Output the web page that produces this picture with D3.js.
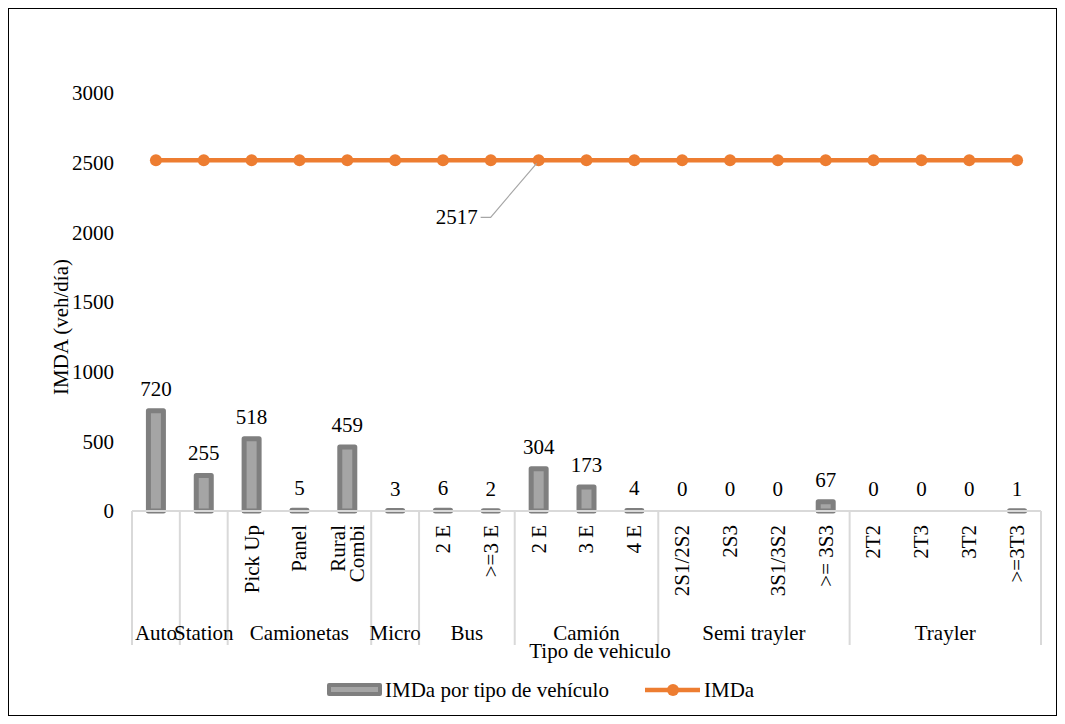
<!DOCTYPE html>
<html><head><meta charset="utf-8">
<script src="https://cdn.jsdelivr.net/npm/d3@7/dist/d3.min.js"></script>
</head>
<body style="margin:0;background:#fff"><svg id="c" width="1065" height="724"></svg>
<script>
// ---- data ----
const subLabels = ["", "", "Pick Up", "Panel", "Rural\nCombi", "", "2 E", ">=3 E", "2 E", "3 E", "4 E",
  "2S1/2S2", "2S3", "3S1/3S2", ">= 3S3", "2T2", "2T3", "3T2", ">=3T3"];
const groupNames = ["Auto", "Station", "Camionetas", "Micro", "Bus", "Camión", "Semi trayler", "Trayler"];
const groupSizes = [1, 1, 3, 1, 2, 3, 4, 4];
const barValues = [720, 255, 518, 5, 459, 3, 6, 2, 304, 173, 4, 0, 0, 0, 67, 0, 0, 0, 1];
const imdaValues = [2517, 2517, 2517, 2517, 2517, 2517, 2517, 2517, 2517, 2517, 2517, 2517, 2517, 2517, 2517, 2517, 2517, 2517, 2517];
const yTicks = [0, 500, 1000, 1500, 2000, 2500, 3000];
const seriesNames = ["IMDa por tipo de vehículo", "IMDa"];
const xTitle = "Tipo de vehiculo";
const yTitle = "IMDA (veh/día)";

// ---- layout ----
const svg = d3.select("#c");
const L = 132, R = 1041, T = 93, B = 511;
const FS = 21;
const FONT = "Liberation Serif";
const orange = "#ED7D31", barFill = "#A5A5A5", barStroke = "#7F7F7F", axisCol = "#D9D9D9";

svg.append("rect").attr("x", 8.5).attr("y", 8.5).attr("width", 1048).attr("height", 707)
  .attr("fill", "none").attr("stroke", "#000").attr("stroke-width", 1);

const x = d3.scaleBand().domain(d3.range(barValues.length)).range([L, R]);
const y = d3.scaleLinear().domain([0, 3000]).range([B, T]);
const cx = i => x(i) + x.bandwidth() / 2;

// y axis labels
const yAxis = d3.axisLeft(y).tickValues(yTicks).tickFormat(d3.format("d")).tickSize(0).tickPadding(0);
const gy = svg.append("g").attr("transform", "translate(114,0)").call(yAxis);
gy.select(".domain").remove();
gy.selectAll("text").attr("font-size", FS).attr("fill", "#000");

// y title
svg.append("text").attr("transform", `translate(68,327) rotate(-90)`).attr("text-anchor", "middle")
  .attr("font-size", FS).text(yTitle);

// bars
const bw = 15;
svg.append("g").selectAll("rect").data(barValues.map((v, i) => ({v, i})).filter(d => d.v > 0)).join("rect")
  .attr("x", d => cx(d.i) - bw / 2).attr("y", d => y(d.v)).attr("width", bw)
  .attr("height", d => B - y(d.v))
  .attr("fill", barFill).attr("stroke", barStroke).attr("stroke-width", 5).attr("stroke-linejoin", "round");

// x axis baseline
svg.append("line").attr("x1", L).attr("x2", R).attr("y1", B).attr("y2", B)
  .attr("stroke", axisCol).attr("stroke-width", 2);

// group separators & labels
let start = 0;
const bounds = [0];
groupSizes.forEach(n => { start += n; bounds.push(start); });
const bx = b => b < barValues.length ? x(b) : R;
svg.append("g").selectAll("line").data(bounds).join("line")
  .attr("x1", bx).attr("x2", bx)
  .attr("y1", B).attr("y2", 645).attr("stroke", axisCol).attr("stroke-width", 2);

svg.append("g").selectAll("text").data(groupNames).join("text")
  .attr("x", (g, k) => (bx(bounds[k]) + bx(bounds[k + 1])) / 2)
  .attr("y", 640).attr("text-anchor", "middle").attr("font-size", FS).text(g => g);

// sub labels
const sub = svg.append("g").selectAll("text").data(subLabels.map((s, i) => ({s, i})).filter(d => d.s)).join("text")
  .attr("transform", d => `translate(${cx(d.i)},525) rotate(-90)`)
  .attr("text-anchor", "end").attr("font-size", FS);
sub.each(function(d) {
  const lines = d.s.split("\n");
  const el = d3.select(this);
  lines.forEach((ln, k) => {
    el.append("tspan").attr("x", 0).attr("y", 0)
      .attr("dy", ((k - (lines.length - 1) / 2) * 0.9 + 0.33) + "em").text(ln);
  });
});

// x title
svg.append("text").attr("x", 600).attr("y", 658).attr("text-anchor", "middle").attr("font-size", FS).text(xTitle);

// bar labels
svg.append("g").selectAll("text").data(barValues).join("text")
  .attr("x", (v, i) => cx(i)).attr("y", v => y(v) - 15).attr("text-anchor", "middle")
  .attr("font-size", FS).text(v => v);

// line
const line = d3.line().x((v, i) => cx(i)).y(v => y(v));
svg.append("path").datum(imdaValues).attr("d", line).attr("fill", "none")
  .attr("stroke", orange).attr("stroke-width", 4.5);
svg.append("g").selectAll("circle").data(imdaValues).join("circle")
  .attr("cx", (v, i) => cx(i)).attr("cy", v => y(v)).attr("r", 6).attr("fill", orange);

// leader label for point 8
const li = 8;
const px = cx(li), py = y(imdaValues[li]);
svg.append("polyline").attr("points", `${px - 2},${py + 3} ${px - 48},${py + 57} ${px - 58},${py + 57}`)
  .attr("fill", "none").attr("stroke", "#A6A6A6").attr("stroke-width", 1.2);
svg.append("text").attr("x", px - 61).attr("y", py + 57).attr("dy", "0.33em").attr("text-anchor", "end")
  .attr("font-size", FS).text(imdaValues[li]);

// legend
const lg = svg.append("g");
lg.append("rect").attr("x", 329).attr("y", 685).attr("width", 51).attr("height", 9)
  .attr("fill", barFill).attr("stroke", barStroke).attr("stroke-width", 4).attr("stroke-linejoin", "round");
lg.append("text").attr("x", 385).attr("y", 697).attr("font-size", FS).text(seriesNames[0]);
lg.append("line").attr("x1", 645).attr("x2", 700).attr("y1", 690).attr("y2", 690).attr("stroke", orange).attr("stroke-width", 4.5);
lg.append("circle").attr("cx", 673).attr("cy", 690).attr("r", 6).attr("fill", orange);
lg.append("text").attr("x", 704).attr("y", 697).attr("font-size", FS).text(seriesNames[1]);

svg.selectAll("text").attr("font-family", FONT).attr("fill", "#000");
svg.selectAll("g").attr("font-family", FONT);
</script></body></html>
